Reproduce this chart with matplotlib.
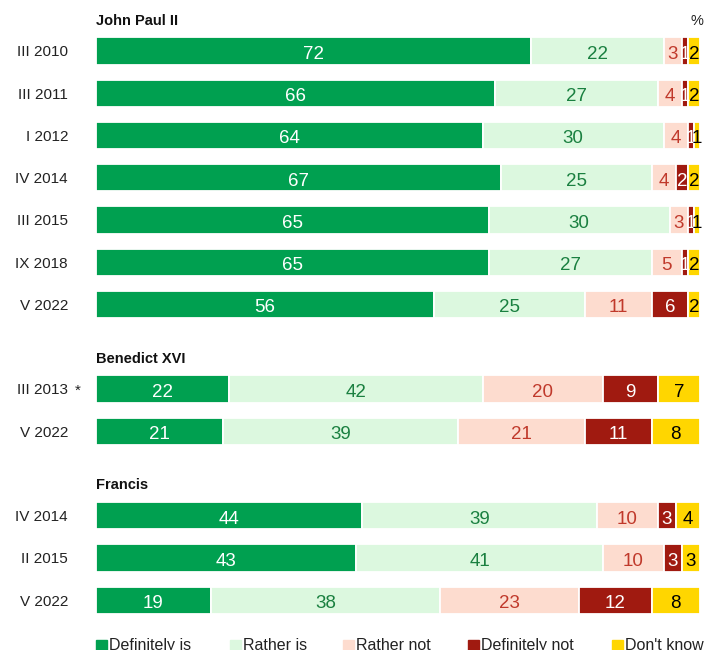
import matplotlib
matplotlib.use("Agg")
import matplotlib.pyplot as plt
import numpy as np

plt.rcParams['font.family'] = ['Liberation Sans', 'DejaVu Sans']

categories = ["Definitely is", "Rather is", "Rather not", "Definitely not", "Don't know"]
colors = ["#00a050", "#dcf8df", "#fddccf", "#a01a10", "#ffd600"]
text_colors = ["white", "#1a8040", "#c0392b", "white", "black"]

groups = ["John Paul II", "Benedict XVI", "Francis"]

jp2_labels = ["III 2010", "III 2011", "I 2012", "IV 2014", "III 2015", "IX 2018", "V 2022"]
jp2_values = [
    [72, 22, 3, 1, 2],
    [66, 27, 4, 1, 2],
    [64, 30, 4, 1, 1],
    [67, 25, 4, 2, 2],
    [65, 30, 3, 1, 1],
    [65, 27, 5, 1, 2],
    [56, 25, 11, 6, 2],
]

b16_labels = ["III 2013", "V 2022"]
b16_values = [
    [22, 42, 20, 9, 7],
    [21, 39, 21, 11, 8],
]

fr_labels = ["IV 2014", "II 2015", "V 2022"]
fr_values = [
    [44, 39, 10, 3, 4],
    [43, 41, 10, 3, 3],
    [19, 38, 23, 12, 8],
]

W, H = 705, 650
fig = plt.figure(figsize=(W / 100, H / 100), dpi=100)

# axes spanning the bar area horizontally, full height; one y unit per row slot
px_row = 42.25
row0_px = 51
ax = fig.add_axes([96 / W, 0, (700 - 96) / W, 1])
ax.set_xlim(0, 100)
ax.set_ylim((H - row0_px) / px_row, -row0_px / px_row)
ax.axis("off")

blocks = [(jp2_labels, jp2_values), (b16_labels, b16_values), (fr_labels, fr_values)]
pos = 0
bar_h = 0.65
for gi, (labels, values) in enumerate(blocks):
    ax.text(0, pos - 0.72, groups[gi], ha="left", va="center",
            fontsize=10.5, fontweight="bold", color="#111111")
    for lab, vals in zip(labels, values):
        left = 0
        for ci, v in enumerate(vals):
            ax.barh(pos, v, left=left, height=bar_h, color=colors[ci],
                    edgecolor="white", linewidth=1.3)
            ax.text(left + v / 2, pos + 0.03, str(v), ha="center", va="center_baseline",
                    fontsize=13.5, color=text_colors[ci])
            left += v
        ax.text(-28 / 6.04, pos, lab, ha="right", va="center_baseline",
                fontsize=11, color="#222222", clip_on=False)
        if gi == 1 and lab == "III 2013":
            ax.text(-21 / 6.04, pos, "*", ha="left", va="center_baseline",
                    fontsize=11, color="#222222", clip_on=False)
        pos += 1
    pos += 1

ax.text(99.5, -0.72, "%", ha="center", va="center", fontsize=10.5, color="#222222")

# legend row along the bottom
leg_x = [0, 22.2, 40.9, 61.6, 85.4]
leg_y = (645 - row0_px) / px_row
for x, c, name in zip(leg_x, colors, categories):
    ax.add_patch(plt.Rectangle((x, leg_y - 0.13), 1.8, 0.28, color=c, clip_on=False))
    ax.text(x + 2.2, leg_y + 0.02, name, ha="left", va="center",
            fontsize=11.5, color="#222222", clip_on=False)

fig.savefig("out.png", dpi=100)
